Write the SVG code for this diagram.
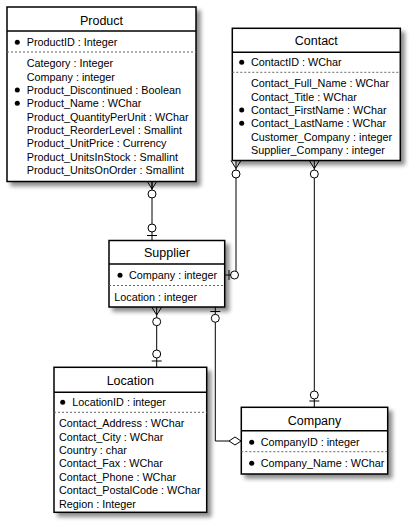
<svg xmlns="http://www.w3.org/2000/svg" width="411" height="526" viewBox="0 0 411 526">
<style>
.box{fill:#fff;stroke:#000;stroke-width:1.5}
.sep{stroke:#000;stroke-width:1.5}
.dash{stroke:#666;stroke-width:1;stroke-dasharray:2,2}
.title{font-family:"Liberation Sans",Arial,sans-serif;font-size:12.5px;text-anchor:middle;fill:#000}
.attr{font-family:"Liberation Sans",Arial,sans-serif;font-size:10.8px;fill:#000}
.dot{fill:#000}
.ln{fill:none;stroke:#000;stroke-width:1}
.ring{fill:#fff;stroke:#000;stroke-width:1}
</style>
<defs>
<filter id="sh" x="-10%" y="-10%" width="130%" height="130%">
<feGaussianBlur in="SourceAlpha" stdDeviation="2"/>
<feOffset dx="4" dy="4" result="b"/>
<feComponentTransfer><feFuncA type="linear" slope="0.45"/></feComponentTransfer>
<feMerge><feMergeNode/><feMergeNode in="SourceGraphic"/></feMerge>
</filter>
</defs>

<g id="connectors">
<!-- Product -> Supplier -->
<line class="ln" x1="152" y1="181" x2="152" y2="240.5"/>
<path class="ln" d="M147,181 L152,189 L157,181 M152,181 V189"/>
<circle class="ring" cx="152" cy="194" r="4"/>
<circle class="ring" cx="152" cy="228" r="4"/>
<line class="ln" x1="147" y1="235.5" x2="157" y2="235.5"/>
<!-- Contact -> Supplier -->
<path class="ln" d="M236,160.5 V275 H224.7"/>
<path class="ln" d="M231,160.5 L236,168.5 L241,160.5"/>
<circle class="ring" cx="236" cy="174" r="4"/>
<circle class="ring" cx="234.5" cy="275" r="4"/>
<line class="ln" x1="229" y1="270" x2="229" y2="280"/>
<!-- Contact -> Company -->
<line class="ln" x1="314.3" y1="160.5" x2="314.3" y2="407.3"/>
<path class="ln" d="M309.3,160.5 L314.3,168.5 L319.3,160.5"/>
<circle class="ring" cx="314.3" cy="174" r="4"/>
<circle class="ring" cx="314.3" cy="395" r="4"/>
<line class="ln" x1="309.3" y1="401" x2="319.3" y2="401"/>
<!-- Supplier -> Location -->
<line class="ln" x1="156.7" y1="307" x2="156.7" y2="367.3"/>
<path class="ln" d="M151.7,307 L156.7,315 L161.7,307"/>
<circle class="ring" cx="156.7" cy="321.7" r="4"/>
<circle class="ring" cx="156.7" cy="354" r="4"/>
<line class="ln" x1="151.7" y1="361" x2="161.7" y2="361"/>
<!-- Supplier -> Company -->
<path class="ln" d="M215.3,307 V441 H229"/>
<line class="ln" x1="210.3" y1="311.5" x2="220.3" y2="311.5"/>
<circle class="ring" cx="215.3" cy="318.3" r="4"/>
<polygon class="ring" points="229,441 235,437 241,441 235,445"/>
</g>

<g id="Product">
<rect class="box" x="7" y="7" width="189" height="174.5" filter="url(#sh)"/>
<line class="sep" x1="7" y1="31" x2="196" y2="31"/>
<line class="dash" x1="7" y1="52" x2="196" y2="52"/>
<text class="title" x="101.5" y="24.5">Product</text>
<circle class="dot" cx="17.3" cy="42.3" r="2.5"/>
<text class="attr" x="26.7" y="46.3">ProductID : Integer</text>
<text class="attr" x="26.7" y="67.3">Category : Integer</text>
<text class="attr" x="26.7" y="80.6">Company : integer</text>
<circle class="dot" cx="17.3" cy="90" r="2.5"/>
<text class="attr" x="26.7" y="94">Product_Discontinued : Boolean</text>
<circle class="dot" cx="17.3" cy="103.3" r="2.5"/>
<text class="attr" x="26.7" y="107.3">Product_Name : WChar</text>
<text class="attr" x="26.7" y="120.7">Product_QuantityPerUnit : WChar</text>
<text class="attr" x="26.7" y="134">Product_ReorderLevel : Smallint</text>
<text class="attr" x="26.7" y="147.3">Product_UnitPrice : Currency</text>
<text class="attr" x="26.7" y="160.7">Product_UnitsInStock : Smallint</text>
<text class="attr" x="26.7" y="174">Product_UnitsOnOrder : Smallint</text>
</g>

<g id="Contact">
<rect class="box" x="232.3" y="28.3" width="168" height="132.2" filter="url(#sh)"/>
<line class="sep" x1="232.3" y1="52.3" x2="400.3" y2="52.3"/>
<line class="dash" x1="232.3" y1="72.3" x2="400.3" y2="72.3"/>
<text class="title" x="316.3" y="45">Contact</text>
<circle class="dot" cx="241.7" cy="62.3" r="2.5"/>
<text class="attr" x="251" y="66.3">ContactID : WChar</text>
<text class="attr" x="251" y="87.3">Contact_Full_Name : WChar</text>
<text class="attr" x="251" y="100.6">Contact_Title : WChar</text>
<circle class="dot" cx="241.7" cy="110" r="2.5"/>
<text class="attr" x="251" y="114">Contact_FirstName : WChar</text>
<circle class="dot" cx="241.7" cy="123.3" r="2.5"/>
<text class="attr" x="251" y="127.3">Contact_LastName : WChar</text>
<text class="attr" x="251" y="140.7">Customer_Company : integer</text>
<text class="attr" x="251" y="154">Supplier_Company : integer</text>
</g>

<g id="Supplier">
<rect class="box" x="109" y="240.5" width="115.7" height="66.5" filter="url(#sh)"/>
<line class="sep" x1="109" y1="264" x2="224.7" y2="264"/>
<line class="dash" x1="109" y1="285.5" x2="224.7" y2="285.5"/>
<text class="title" x="166.9" y="257">Supplier</text>
<circle class="dot" cx="120" cy="275.3" r="2.5"/>
<text class="attr" x="129" y="279.3">Company : integer</text>
<text class="attr" x="114.3" y="300.7">Location : integer</text>
</g>

<g id="Location">
<rect class="box" x="54" y="367.3" width="152.7" height="145" filter="url(#sh)"/>
<line class="sep" x1="54" y1="392.3" x2="206.7" y2="392.3"/>
<line class="dash" x1="54" y1="412.3" x2="206.7" y2="412.3"/>
<text class="title" x="130.3" y="384.5">Location</text>
<circle class="dot" cx="62.7" cy="402.3" r="2.5"/>
<text class="attr" x="72.3" y="406.3">LocationID : integer</text>
<text class="attr" x="59" y="427.3">Contact_Address : WChar</text>
<text class="attr" x="59" y="440.7">Contact_City : WChar</text>
<text class="attr" x="59" y="454">Country : char</text>
<text class="attr" x="59" y="467.3">Contact_Fax : WChar</text>
<text class="attr" x="59" y="480.7">Contact_Phone : WChar</text>
<text class="attr" x="59" y="494">Contact_PostalCode : WChar</text>
<text class="attr" x="59" y="507.5">Region : Integer</text>
</g>

<g id="Company">
<rect class="box" x="241.3" y="407.3" width="146.4" height="66.7" filter="url(#sh)"/>
<line class="sep" x1="241.3" y1="430.7" x2="387.7" y2="430.7"/>
<line class="dash" x1="241.3" y1="451.7" x2="387.7" y2="451.7"/>
<text class="title" x="314.5" y="424.5">Company</text>
<circle class="dot" cx="251.7" cy="442.3" r="2.5"/>
<text class="attr" x="260.7" y="446.3">CompanyID : integer</text>
<circle class="dot" cx="251.7" cy="463.3" r="2.5"/>
<text class="attr" x="260.7" y="467.3">Company_Name : WChar</text>
</g>
</svg>
